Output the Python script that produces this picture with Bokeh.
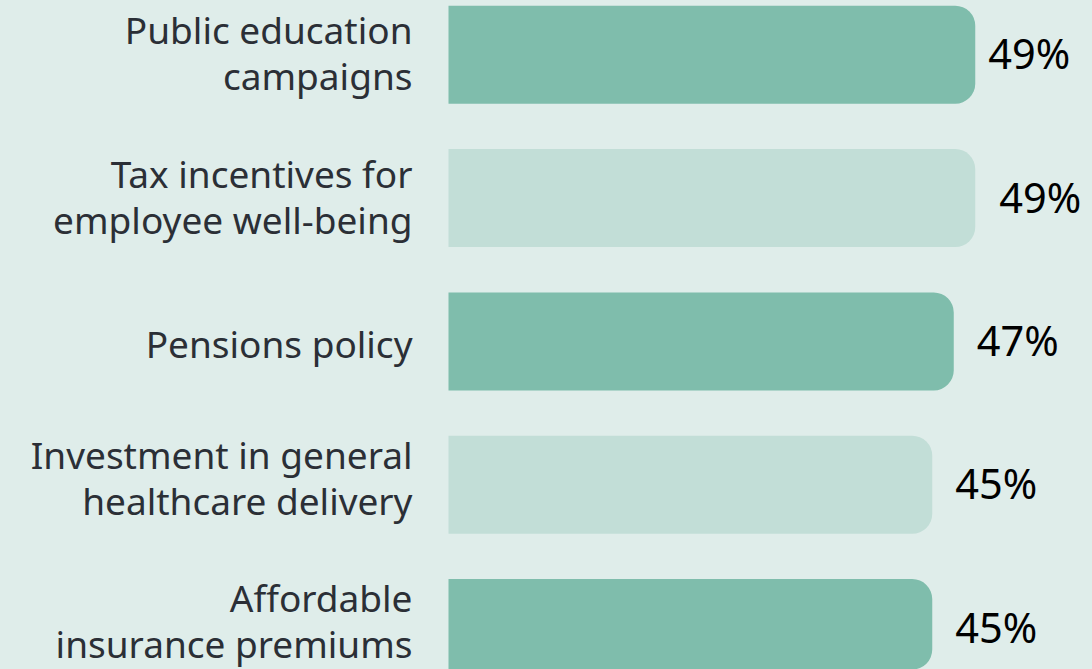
from bokeh.plotting import figure
from bokeh.models import ColumnDataSource, Range1d
from bokeh.core.properties import value
from bokeh.embed import file_html
from bokeh.resources import INLINE

categories = [
    "Public education\ncampaigns",
    "Tax incentives for\nemployee well-being",
    "Pensions policy",
    "Investment in general\nhealthcare delivery",
    "Affordable\ninsurance premiums",
]
values = [49, 49, 47, 45, 45]
value_labels = ["49%", "49%", "47%", "45%", "45%"]

# styles
bar_colors = ["#7fbdac", "#c2ded7", "#7fbdac", "#c2ded7", "#7fbdac"]
label_x_offsets = [13, 24, 23, 23, 23]
cat_y_offsets = [-2.5, -1.5, 2, -7.5, -8]
BG = "#dfedea"

W, H = 1092, 669
x0_px = 448.0
px_per_unit = 10.75
y0_px = 54.2
px_per_row = 143.35

p = figure(
    width=W, height=H, output_backend="svg", toolbar_location=None,
    x_range=Range1d(-x0_px / px_per_unit, (W - x0_px) / px_per_unit),
    y_range=Range1d((H - y0_px) / px_per_row, -y0_px / px_per_row),
    min_border=0, min_border_left=0, min_border_right=0,
    min_border_top=0, min_border_bottom=0,
)
p.axis.visible = False
p.grid.visible = False
p.outline_line_color = None
p.background_fill_color = BG
p.border_fill_color = BG

idx = list(range(len(categories)))
src = ColumnDataSource(dict(
    y=idx, v=values, cat=categories, lab=value_labels,
    color=bar_colors, off=label_x_offsets, cyo=cat_y_offsets,
    zero=[0] * len(idx),
))

p.hbar(y="y", left=0, right="v", height=98 / px_per_row, source=src,
       fill_color="color", line_color=None,
       border_radius=(0, 20, 20, 0))

p.text(x="zero", y="y", text="cat", source=src, x_offset=-36, y_offset="cyo",
       text_align="right", text_baseline="middle",
       text_font=value("Noto Sans"), text_font_size="37px",
       text_line_height=0.9, text_color="#2b2f36")

p.text(x="v", y="y", text="lab", source=src, x_offset="off", y_offset=-1.5,
       text_align="left", text_baseline="middle",
       text_font=value("Noto Sans"), text_font_size="41.5px",
       text_color="#000000")

html = file_html(p, INLINE)
html = html.replace("<head>", "<head><style>html,body{background:%s;margin:0;}</style>" % BG, 1)
open("out.html", "w").write(html)
